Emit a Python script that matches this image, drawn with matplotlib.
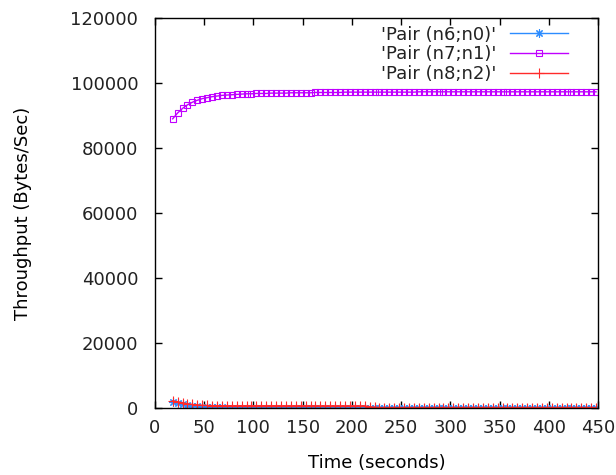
import numpy as np
import matplotlib
matplotlib.use('Agg')
import matplotlib.pyplot as plt

# Sample times (seconds) and throughput per flow pair (bytes/sec)
time_s = np.arange(18, 449, 5)

pair_n6_n0 = [
    2000, 1600, 1200, 900, 700, 500, 400, 300, 250, 200,
    180, 160, 140, 120, 110, 100, 100, 90, 90, 90,
    80, 80, 80, 80, 80, 70, 70, 70, 70, 70,
    70, 70, 60, 60, 60, 60, 60, 60, 60, 60,
    60, 60, 60, 60, 60, 60, 60, 60, 50, 50,
    50, 50, 50, 50, 50, 50, 50, 50, 50, 50,
    50, 50, 50, 50, 50, 50, 50, 50, 50, 50,
    50, 50, 50, 50, 50, 50, 50, 50, 50, 50,
    50, 50, 50, 50, 50, 50, 50,
]

pair_n7_n1 = [
    89000, 90800, 92200, 93300, 94100, 94700, 95200, 95500, 95800, 96000,
    96200, 96300, 96400, 96500, 96600, 96700, 96700, 96800, 96800, 96800,
    96900, 96900, 96900, 96900, 97000, 97000, 97000, 97000, 97000, 97100,
    97100, 97100, 97100, 97100, 97100, 97200, 97200, 97200, 97200, 97200,
    97200, 97200, 97200, 97200, 97200, 97200, 97200, 97200, 97200, 97200,
    97300, 97300, 97300, 97300, 97300, 97300, 97300, 97300, 97300, 97300,
    97300, 97300, 97300, 97300, 97300, 97300, 97300, 97300, 97300, 97300,
    97300, 97300, 97300, 97300, 97300, 97300, 97300, 97300, 97300, 97300,
    97300, 97300, 97300, 97300, 97300, 97300, 97300,
]

pair_n8_n2 = [
    2200, 1900, 1600, 1300, 1100, 950, 850, 780, 740, 720,
    700, 700, 700, 700, 700, 700, 700, 700, 700, 700,
    700, 700, 690, 690, 690, 690, 690, 690, 680, 680,
    680, 680, 680, 680, 680, 680, 680, 680, 680, 680,
    400, 250, 150, 150, 150, 150, 150, 150, 150, 150,
    150, 150, 150, 150, 150, 150, 150, 150, 150, 150,
    150, 150, 150, 150, 150, 150, 150, 150, 150, 150,
    150, 150, 150, 150, 150, 150, 150, 150, 150, 150,
    150, 150, 150, 150, 150, 150, 150,
]

x_ticks = [0, 50, 100, 150, 200, 250, 300, 350, 400, 450]
y_ticks = [0, 20000, 40000, 60000, 80000, 100000, 120000]

plt.rcParams['font.family'] = 'DejaVu Sans'
plt.rcParams['font.size'] = 13
plt.rcParams['text.color'] = '#222222'
plt.rcParams['xtick.labelcolor'] = '#222222'
plt.rcParams['ytick.labelcolor'] = '#222222'

fig = plt.figure(figsize=(6.16, 4.75), dpi=100)
ax = fig.add_axes([0.2516, 0.141, 0.7192, 0.821])

asterisk = (8, 2, 0)
ax.plot(time_s, pair_n6_n0, color='#2c8cff', lw=1, marker=asterisk,
        ms=6, mew=0.8, label="'Pair (n6;n0)'")
ax.plot(time_s, pair_n7_n1, color='#c000ff', lw=1, marker='s', ms=5,
        mfc='none', mew=0.8, label="'Pair (n7;n1)'")
ax.plot(time_s, pair_n8_n2, color='#ff2a2a', lw=1, marker='+', ms=7,
        mew=0.8, label="'Pair (n8;n2)'")

ax.set_xlim(0, 450)
ax.set_ylim(0, 120000)
ax.set_xticks(x_ticks)
ax.set_yticks(y_ticks)
ax.tick_params(direction='in', length=5, width=1, top=True, right=True)
ax.tick_params(axis='y', pad=12)
ax.tick_params(axis='x', pad=8)
for s in ax.spines.values():
    s.set_linewidth(1)

ax.set_xlabel('Time (seconds)', labelpad=12)
ax.set_ylabel('Throughput (Bytes/Sec)', labelpad=28)

ax.legend(loc='upper right', bbox_to_anchor=(0.941, 0.99), frameon=False,
          markerfirst=False, handlelength=3.2, handletextpad=0.8,
          labelspacing=0.1, borderaxespad=0.0, borderpad=0.2)

fig.savefig('out.png', dpi=100)
